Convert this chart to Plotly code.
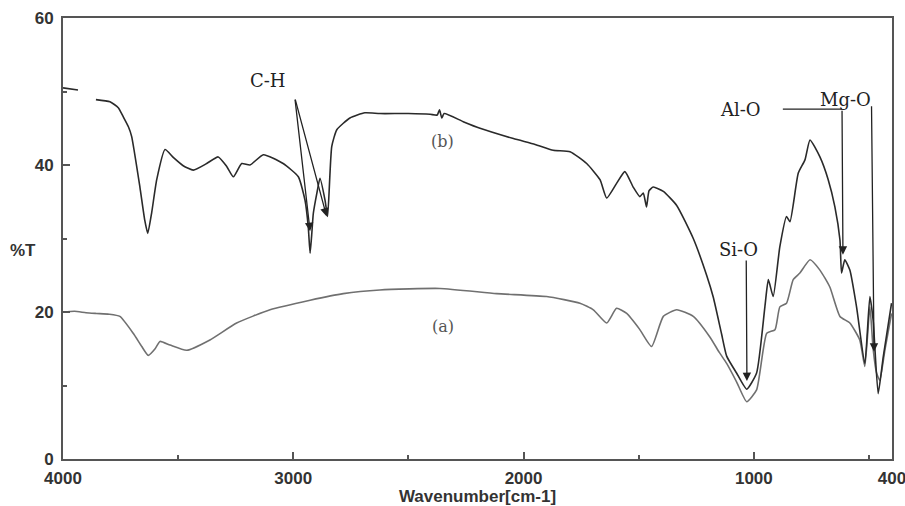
import plotly.graph_objects as go

# Curve (b)
wave_b = [4000, 3935, None, 3857, 3796, 3760, 3739, 3716, 3702, 3666, 3645, 3632, 3615, 3593, 3557, 3520,
          3478, 3434, 3376, 3326, 3289, 3260, 3224, 3188, 3130, 3044, 2978, 2949, 2935, 2927, 2920,
          2913, 2898, 2884, 2862, 2851, 2833, 2811, 2754, 2689, 2624, 2500, 2406, 2375, 2365, 2355,
          2345, 2262, 2189, 2044, 1950, 1871, 1798, 1726, 1668, 1639, 1596, 1560, 1524, 1495, 1480, 1466,
          1455, 1437, 1393, 1335, 1263, 1205, 1176, 1140, 1118, 1075, 1031, 988, 952, 937, 916,
          887, 858, 843, 807, 778, 756, 713, 677, 648, 626, 619, 605, 583, 554, 518, 496, 482,
          460, 438, 402]
trans_b = [50.5, 50.2, None, 48.9, 48.6, 47.8, 46.6, 45.2, 43.9, 37.0, 32.5, 30.7, 33.5, 38.0, 42.1, 41.0,
           39.9, 39.3, 40.2, 41.1, 39.8, 38.4, 40.2, 40.0, 41.4, 40.2, 38.4, 35.2, 31.6, 28.0, 30.5,
           33.4, 36.1, 38.2, 35.2, 33.0, 42.5, 44.8, 46.4, 47.1, 47.0, 47.0, 46.9, 46.8, 47.5, 46.4,
           47.0, 45.9, 45.0, 43.6, 42.8, 42.0, 41.8, 40.2, 38.0, 35.5, 37.5, 39.1, 37.0, 35.7, 36.2, 34.3,
           36.5, 37.0, 36.4, 34.5, 30.0, 25.0, 22.0, 17.0, 14.0, 11.7, 9.5, 11.7, 20.7, 24.4, 22.1,
           28.9, 33.0, 32.3, 38.9, 40.7, 43.4, 41.1, 38.0, 34.3, 29.8, 25.3, 27.1, 25.7, 20.7, 13.0, 22.1, 18.9,
           8.9, 13.9, 21.2]

# Curve (a)
wave_a = [4000, 3950, 3900, 3855, 3800, 3753, 3695, 3658, 3630, 3600, 3579, 3535, 3463, 3362, 3246,
          3101, 2927, 2783, 2624, 2363, 2117, 1900, 1755, 1697, 1639, 1596, 1552, 1495, 1444, 1393,
          1335, 1263, 1191, 1150, 1118, 1075, 1031, 988, 944, 908, 887, 858, 829, 800, 756, 713,
          670, 626, 583, 540, 518, 496, 482, 467, 453, 430, 402]
trans_a = [20.0, 20.1, 19.9, 19.8, 19.7, 19.4, 17.1, 15.3, 14.1, 15.0, 16.0, 15.5, 14.8, 16.2, 18.5,
           20.3, 21.6, 22.5, 23.0, 23.2, 22.5, 22.1, 21.2, 20.3, 18.5, 20.5, 19.8, 17.6, 15.3, 19.4,
           20.3, 19.4, 16.6, 14.5, 13.0, 10.5, 7.8, 9.4, 17.1, 17.6, 20.7, 21.2, 24.4, 25.3, 27.1, 25.7,
           23.4, 19.4, 18.5, 16.2, 12.6, 20.7, 15.0, 11.7, 10.7, 15.0, 19.8]

x_tick_vals = [4000, 3000, 2000, 1000, 400]
x_tick_text = ["4000", "3000", "2000", "1000", "400"]
y_tick_vals = [0, 20, 40, 60]

TICKFONT = "Liberation Sans, Arial, sans-serif"
SERIF = "DejaVu Serif, Liberation Serif, serif"

fig = go.Figure()
fig.add_trace(go.Scatter(x=wave_a, y=trans_a, mode="lines",
                         line=dict(color="#707070", width=1.6, shape="spline", smoothing=0.5),
                         showlegend=False))
fig.add_trace(go.Scatter(x=wave_b, y=trans_b, mode="lines", connectgaps=False,
                         line=dict(color="#2a2a2a", width=1.6, shape="spline", smoothing=0.5),
                         showlegend=False))

axis_common = dict(showline=True, linecolor="#555555", linewidth=2, mirror=True,
                   showgrid=False, zeroline=False, ticks="inside", ticklen=7,
                   tickwidth=1.5, tickcolor="#555555", automargin=False,
                   ticklabeloverflow="allow",
                   tickfont=dict(family=TICKFONT, size=17, color="#333333", weight="bold"))

fig.update_xaxes(range=[4000, 400], tickvals=x_tick_vals, ticktext=x_tick_text,
                 minor=dict(tickvals=[3500, 2500, 1500, 500], ticks="inside", ticklen=4,
                            tickcolor="#555555", tickwidth=1.5),
                 ticklabelstandoff=3,
                 title=dict(text="Wavenumber[cm-1]", standoff=3,
                            font=dict(family=TICKFONT, size=17, color="#333333", weight="bold")),
                 **axis_common)
fig.update_yaxes(range=[0, 60], tickvals=y_tick_vals,
                 minor=dict(tickvals=[10, 30, 50], ticks="inside", ticklen=4,
                            tickcolor="#555555", tickwidth=1.5),
                 ticklabelstandoff=4,
                 **axis_common)

# y-axis title (horizontal)
fig.add_annotation(text="%T", xref="paper", yref="y", x=-0.066, y=28.4, showarrow=False,
                   xanchor="left", font=dict(family=TICKFONT, size=17, color="#333333", weight="bold"))

ann_font = dict(family=SERIF, size=18, color="#222222")
lbl_font = dict(family=SERIF, size=16, color="#555555")

# labels
fig.add_annotation(text="C-H", x=3110, y=51.5, showarrow=False, font=ann_font)
fig.add_annotation(text="Al-O", x=1056, y=47.5, showarrow=False, font=ann_font)
fig.add_annotation(text="Mg-O", x=600, y=48.9, showarrow=False, font=ann_font)
fig.add_annotation(text="Si-O", x=1065, y=28.5, showarrow=False, font=ann_font)
fig.add_annotation(text="(b)", x=2350, y=43.2, showarrow=False, font=lbl_font)
fig.add_annotation(text="(a)", x=2350, y=18.0, showarrow=False, font=lbl_font)

arrow = dict(showarrow=True, arrowhead=2, arrowsize=1.3, arrowwidth=1.3, arrowcolor="#222222",
             axref="x", ayref="y", text="")
# C-H arrows
fig.add_annotation(x=2927, y=31.0, ax=2993, ay=49.1, **arrow)
fig.add_annotation(x=2855, y=33.0, ax=2993, ay=49.1, **arrow)
# Si-O
fig.add_annotation(x=1030, y=10.6, ax=1033, ay=27.2, **arrow)
# Al-O
fig.add_annotation(x=613, y=27.8, ax=617, ay=47.6, **arrow)
# Mg-O
fig.add_annotation(x=478, y=14.6, ax=489, ay=48.2, **arrow)
# Al-O horizontal leader
fig.add_shape(type="line", x0=874, x1=617, y0=47.6, y1=47.6, xref="x", yref="y",
              line=dict(color="#222222", width=1.3))

fig.update_layout(width=905, height=506, margin=dict(l=63, r=13, t=18, b=47),
                  paper_bgcolor="white", plot_bgcolor="white")

fig.write_html("out.html")
